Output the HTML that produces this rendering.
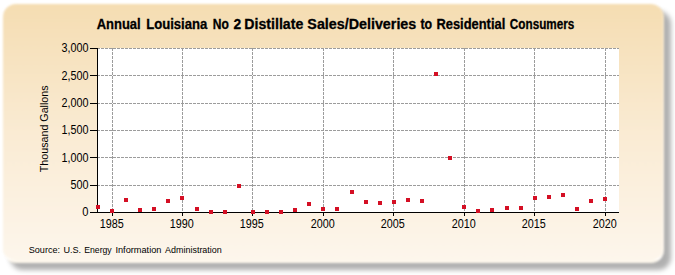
<!DOCTYPE html>
<html><head><meta charset="utf-8"><style>
html,body{margin:0;padding:0;background:#fff;width:675px;height:275px;overflow:hidden;}
#shadow{position:absolute;left:10px;top:11px;width:661px;height:258.5px;border-radius:13px;
background:rgba(0,0,0,0.31);filter:blur(2.5px);}
#panel{position:absolute;left:3px;top:4px;width:661px;height:258.5px;border-radius:13px;
background:linear-gradient(to bottom,#F5DDB2 0%,#FAEBD3 50%,#FDF6EC 100%);filter:blur(0.9px);box-sizing:border-box;border-right:1.5px solid rgba(255,255,255,0.4);border-bottom:3px solid rgba(255,255,255,0.75);}
svg{position:absolute;left:0;top:0;}
</style></head><body>
<div id="shadow"></div><div id="panel"></div>
<svg width="675" height="275" viewBox="0 0 675 275">
<g shape-rendering="crispEdges">
<rect x="97" y="48" width="522" height="164" fill="#ffffff"/>
<line x1="112.5" y1="48" x2="112.5" y2="212" stroke="#9C9C9C" stroke-width="1" stroke-dasharray="3 1"/>
<line x1="182.5" y1="48" x2="182.5" y2="212" stroke="#9C9C9C" stroke-width="1" stroke-dasharray="3 1"/>
<line x1="252.5" y1="48" x2="252.5" y2="212" stroke="#9C9C9C" stroke-width="1" stroke-dasharray="3 1"/>
<line x1="323.5" y1="48" x2="323.5" y2="212" stroke="#9C9C9C" stroke-width="1" stroke-dasharray="3 1"/>
<line x1="393.5" y1="48" x2="393.5" y2="212" stroke="#9C9C9C" stroke-width="1" stroke-dasharray="3 1"/>
<line x1="464.5" y1="48" x2="464.5" y2="212" stroke="#9C9C9C" stroke-width="1" stroke-dasharray="3 1"/>
<line x1="534.5" y1="48" x2="534.5" y2="212" stroke="#9C9C9C" stroke-width="1" stroke-dasharray="3 1"/>
<line x1="605.5" y1="48" x2="605.5" y2="212" stroke="#9C9C9C" stroke-width="1" stroke-dasharray="3 1"/>
<line x1="97" y1="48.5" x2="619" y2="48.5" stroke="#9C9C9C" stroke-width="1" stroke-dasharray="3 1"/>
<line x1="97" y1="75.5" x2="619" y2="75.5" stroke="#9C9C9C" stroke-width="1" stroke-dasharray="3 1"/>
<line x1="97" y1="103.5" x2="619" y2="103.5" stroke="#9C9C9C" stroke-width="1" stroke-dasharray="3 1"/>
<line x1="97" y1="130.5" x2="619" y2="130.5" stroke="#9C9C9C" stroke-width="1" stroke-dasharray="3 1"/>
<line x1="97" y1="157.5" x2="619" y2="157.5" stroke="#9C9C9C" stroke-width="1" stroke-dasharray="3 1"/>
<line x1="97" y1="185.5" x2="619" y2="185.5" stroke="#9C9C9C" stroke-width="1" stroke-dasharray="3 1"/>
<line x1="97.5" y1="48" x2="97.5" y2="213" stroke="#000" stroke-width="1"/>
<line x1="90" y1="212.5" x2="619" y2="212.5" stroke="#000" stroke-width="1"/>
<line x1="90" y1="48.5" x2="97" y2="48.5" stroke="#000" stroke-width="1"/>
<line x1="90" y1="75.5" x2="97" y2="75.5" stroke="#000" stroke-width="1"/>
<line x1="90" y1="103.5" x2="97" y2="103.5" stroke="#000" stroke-width="1"/>
<line x1="90" y1="130.5" x2="97" y2="130.5" stroke="#000" stroke-width="1"/>
<line x1="90" y1="157.5" x2="97" y2="157.5" stroke="#000" stroke-width="1"/>
<line x1="90" y1="185.5" x2="97" y2="185.5" stroke="#000" stroke-width="1"/>
<line x1="112.5" y1="212" x2="112.5" y2="216" stroke="#000" stroke-width="1"/>
<line x1="182.5" y1="212" x2="182.5" y2="216" stroke="#000" stroke-width="1"/>
<line x1="252.5" y1="212" x2="252.5" y2="216" stroke="#000" stroke-width="1"/>
<line x1="323.5" y1="212" x2="323.5" y2="216" stroke="#000" stroke-width="1"/>
<line x1="393.5" y1="212" x2="393.5" y2="216" stroke="#000" stroke-width="1"/>
<line x1="464.5" y1="212" x2="464.5" y2="216" stroke="#000" stroke-width="1"/>
<line x1="534.5" y1="212" x2="534.5" y2="216" stroke="#000" stroke-width="1"/>
<line x1="605.5" y1="212" x2="605.5" y2="216" stroke="#000" stroke-width="1"/>
<rect x="96" y="205" width="4" height="4" fill="#D40F24"/>
<rect x="110" y="209" width="4" height="4" fill="#D40F24"/>
<rect x="124" y="198" width="4" height="4" fill="#D40F24"/>
<rect x="138" y="208" width="4" height="4" fill="#D40F24"/>
<rect x="152" y="207" width="4" height="4" fill="#D40F24"/>
<rect x="166" y="199" width="4" height="4" fill="#D40F24"/>
<rect x="180" y="196" width="4" height="4" fill="#D40F24"/>
<rect x="195" y="207" width="4" height="4" fill="#D40F24"/>
<rect x="209" y="210" width="4" height="4" fill="#D40F24"/>
<rect x="223" y="210" width="4" height="4" fill="#D40F24"/>
<rect x="237" y="184" width="4" height="4" fill="#D40F24"/>
<rect x="251" y="210" width="4" height="4" fill="#D40F24"/>
<rect x="265" y="210" width="4" height="4" fill="#D40F24"/>
<rect x="279" y="210" width="4" height="4" fill="#D40F24"/>
<rect x="293" y="208" width="4" height="4" fill="#D40F24"/>
<rect x="307" y="202" width="4" height="4" fill="#D40F24"/>
<rect x="321" y="207" width="4" height="4" fill="#D40F24"/>
<rect x="335" y="207" width="4" height="4" fill="#D40F24"/>
<rect x="350" y="190" width="4" height="4" fill="#D40F24"/>
<rect x="364" y="200" width="4" height="4" fill="#D40F24"/>
<rect x="378" y="201" width="4" height="4" fill="#D40F24"/>
<rect x="392" y="200" width="4" height="4" fill="#D40F24"/>
<rect x="406" y="198" width="4" height="4" fill="#D40F24"/>
<rect x="420" y="199" width="4" height="4" fill="#D40F24"/>
<rect x="434" y="72" width="4" height="4" fill="#D40F24"/>
<rect x="448" y="156" width="4" height="4" fill="#D40F24"/>
<rect x="462" y="205" width="4" height="4" fill="#D40F24"/>
<rect x="476" y="209" width="4" height="4" fill="#D40F24"/>
<rect x="490" y="208" width="4" height="4" fill="#D40F24"/>
<rect x="505" y="206" width="4" height="4" fill="#D40F24"/>
<rect x="519" y="206" width="4" height="4" fill="#D40F24"/>
<rect x="533" y="196" width="4" height="4" fill="#D40F24"/>
<rect x="547" y="195" width="4" height="4" fill="#D40F24"/>
<rect x="561" y="193" width="4" height="4" fill="#D40F24"/>
<rect x="575" y="207" width="4" height="4" fill="#D40F24"/>
<rect x="589" y="199" width="4" height="4" fill="#D40F24"/>
<rect x="603" y="197" width="4" height="4" fill="#D40F24"/>
</g>
<text x="99.7" y="227.6" font-family="Liberation Sans, sans-serif" font-size="12.5" textLength="24" lengthAdjust="spacingAndGlyphs" fill="#000">1985</text>
<text x="169.7" y="227.6" font-family="Liberation Sans, sans-serif" font-size="12.5" textLength="24" lengthAdjust="spacingAndGlyphs" fill="#000">1990</text>
<text x="239.7" y="227.6" font-family="Liberation Sans, sans-serif" font-size="12.5" textLength="24" lengthAdjust="spacingAndGlyphs" fill="#000">1995</text>
<text x="310.7" y="227.6" font-family="Liberation Sans, sans-serif" font-size="12.5" textLength="24" lengthAdjust="spacingAndGlyphs" fill="#000">2000</text>
<text x="380.7" y="227.6" font-family="Liberation Sans, sans-serif" font-size="12.5" textLength="24" lengthAdjust="spacingAndGlyphs" fill="#000">2005</text>
<text x="451.7" y="227.6" font-family="Liberation Sans, sans-serif" font-size="12.5" textLength="24" lengthAdjust="spacingAndGlyphs" fill="#000">2010</text>
<text x="521.7" y="227.6" font-family="Liberation Sans, sans-serif" font-size="12.5" textLength="24" lengthAdjust="spacingAndGlyphs" fill="#000">2015</text>
<text x="592.7" y="227.6" font-family="Liberation Sans, sans-serif" font-size="12.5" textLength="24" lengthAdjust="spacingAndGlyphs" fill="#000">2020</text>
<text x="61.5" y="52" font-family="Liberation Sans, sans-serif" font-size="12.5" textLength="27" lengthAdjust="spacingAndGlyphs" fill="#000">3,000</text>
<text x="61.5" y="80" font-family="Liberation Sans, sans-serif" font-size="12.5" textLength="27" lengthAdjust="spacingAndGlyphs" fill="#000">2,500</text>
<text x="61.5" y="107" font-family="Liberation Sans, sans-serif" font-size="12.5" textLength="27" lengthAdjust="spacingAndGlyphs" fill="#000">2,000</text>
<text x="61.5" y="134" font-family="Liberation Sans, sans-serif" font-size="12.5" textLength="27" lengthAdjust="spacingAndGlyphs" fill="#000">1,500</text>
<text x="61.5" y="162" font-family="Liberation Sans, sans-serif" font-size="12.5" textLength="27" lengthAdjust="spacingAndGlyphs" fill="#000">1,000</text>
<text x="70.5" y="189" font-family="Liberation Sans, sans-serif" font-size="12.5" textLength="18" lengthAdjust="spacingAndGlyphs" fill="#000">500</text>
<text x="82.3" y="216" font-family="Liberation Sans, sans-serif" font-size="12.5" textLength="6.2" lengthAdjust="spacingAndGlyphs" fill="#000">0</text>
<text x="96.7" y="28.6" font-family="Liberation Sans, sans-serif" font-size="14" font-weight="bold" textLength="44.02" lengthAdjust="spacingAndGlyphs" fill="#000" stroke="#000" stroke-width="0.3">Annual</text>
<text x="146.16" y="28.6" font-family="Liberation Sans, sans-serif" font-size="14" font-weight="bold" textLength="61.14" lengthAdjust="spacingAndGlyphs" fill="#000" stroke="#000" stroke-width="0.3">Louisiana</text>
<text x="212.84" y="28.6" font-family="Liberation Sans, sans-serif" font-size="14" font-weight="bold" textLength="16.04" lengthAdjust="spacingAndGlyphs" fill="#000" stroke="#000" stroke-width="0.3">No</text>
<text x="233.4" y="28.6" font-family="Liberation Sans, sans-serif" font-size="14" font-weight="bold" textLength="7.69" lengthAdjust="spacingAndGlyphs" fill="#000" stroke="#000" stroke-width="0.3">2</text>
<text x="244.39" y="28.6" font-family="Liberation Sans, sans-serif" font-size="14" font-weight="bold" textLength="58.87" lengthAdjust="spacingAndGlyphs" fill="#000" stroke="#000" stroke-width="0.3">Distillate</text>
<text x="307.38" y="28.6" font-family="Liberation Sans, sans-serif" font-size="14" font-weight="bold" textLength="108.88" lengthAdjust="spacingAndGlyphs" fill="#000" stroke="#000" stroke-width="0.3">Sales/Deliveries</text>
<text x="420.4" y="28.6" font-family="Liberation Sans, sans-serif" font-size="14" font-weight="bold" textLength="11.69" lengthAdjust="spacingAndGlyphs" fill="#000" stroke="#000" stroke-width="0.3">to</text>
<text x="436.48" y="28.6" font-family="Liberation Sans, sans-serif" font-size="14" font-weight="bold" textLength="68.77" lengthAdjust="spacingAndGlyphs" fill="#000" stroke="#000" stroke-width="0.3">Residential</text>
<text x="509.86" y="28.6" font-family="Liberation Sans, sans-serif" font-size="14" font-weight="bold" textLength="64.46" lengthAdjust="spacingAndGlyphs" fill="#000" stroke="#000" stroke-width="0.3">Consumers</text>
<text transform="translate(48,128.8) rotate(-90)" x="0" y="0" font-family="Liberation Sans, sans-serif" font-size="10.7" text-anchor="middle" fill="#000">Thousand Gallons</text>
<text x="28.75" y="253" font-family="Liberation Sans, sans-serif" font-size="9.5" textLength="31.27" lengthAdjust="spacingAndGlyphs" fill="#000">Source:</text>
<text x="63.45" y="253" font-family="Liberation Sans, sans-serif" font-size="9.5" textLength="17.61" lengthAdjust="spacingAndGlyphs" fill="#000">U.S.</text>
<text x="84.19" y="253" font-family="Liberation Sans, sans-serif" font-size="9.5" textLength="27.51" lengthAdjust="spacingAndGlyphs" fill="#000">Energy</text>
<text x="115.43" y="253" font-family="Liberation Sans, sans-serif" font-size="9.5" textLength="45.98" lengthAdjust="spacingAndGlyphs" fill="#000">Information</text>
<text x="165.1" y="253" font-family="Liberation Sans, sans-serif" font-size="9.5" textLength="56.69" lengthAdjust="spacingAndGlyphs" fill="#000">Administration</text>
</svg>
</body></html>
